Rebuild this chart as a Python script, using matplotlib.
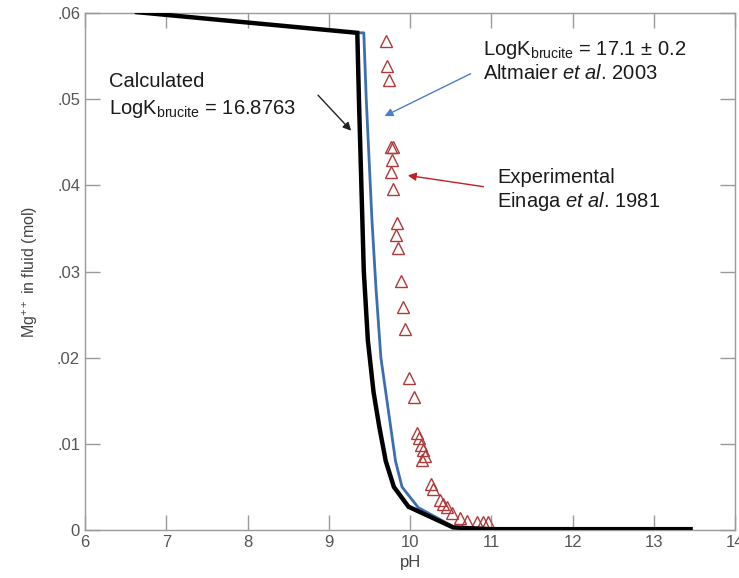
import matplotlib
matplotlib.use("Agg")
import matplotlib.pyplot as plt
from matplotlib.ticker import FuncFormatter

# font setup (Arial look-alike, also for the math subscripts)
plt.rcParams['font.family'] = ['Liberation Sans', 'DejaVu Sans']
plt.rcParams['mathtext.fontset'] = 'custom'
plt.rcParams['mathtext.rm'] = 'Liberation Sans'
plt.rcParams['mathtext.it'] = 'Liberation Sans:italic'

# calculated curve, LogK brucite = 16.8763
calc_ph = [6.64, 9.35, 9.37, 9.40, 9.43, 9.48, 9.55, 9.62, 9.70, 9.80, 9.98, 10.53, 11.0, 13.45]
calc_mg = [0.0601, 0.0577, 0.050, 0.040, 0.030, 0.022, 0.016, 0.012, 0.008, 0.005, 0.0027, 0.0003, 0.0001, 0.0001]

# Altmaier et al. 2003 curve, LogK brucite = 17.1
alt_ph = [9.35, 9.43, 9.46, 9.50, 9.53, 9.58, 9.64, 9.70, 9.76, 9.82, 9.90, 10.10, 10.55, 11.0]
alt_mg = [0.0577, 0.0577, 0.050, 0.042, 0.036, 0.028, 0.020, 0.016, 0.012, 0.008, 0.005, 0.0026, 0.0003, 0.0001]

# experimental points, Einaga et al. 1981
exp_ph = [9.705, 9.717, 9.742, 9.766, 9.791, 9.778, 9.766, 9.791, 9.840, 9.828, 9.852,
          9.889, 9.914, 9.938, 9.988, 10.049, 10.086, 10.111, 10.135, 10.160, 10.185,
          10.148, 10.258, 10.283, 10.369, 10.406, 10.455, 10.517, 10.615, 10.702,
          10.825, 10.898, 10.960]
exp_mg = [0.0567, 0.0539, 0.0522, 0.0445, 0.0444, 0.0429, 0.0416, 0.0396, 0.0356, 0.0342, 0.0327,
          0.0289, 0.0259, 0.0233, 0.0177, 0.0154, 0.0113, 0.0107, 0.0099, 0.0093, 0.0086,
          0.0081, 0.0053, 0.0048, 0.0035, 0.0030, 0.0027, 0.0020, 0.0014, 0.0010,
          0.0009, 0.0009, 0.0009]

fig = plt.figure(figsize=(7.39, 5.78), dpi=100)
ax = fig.add_axes([0.115, 0.083, 0.88, 0.8945])

ax.plot(alt_ph, alt_mg, color='#3b6fb0', lw=2.0, zorder=2)
ax.plot(exp_ph, exp_mg, ls='none', marker='^', markersize=9, markerfacecolor='none',
        markeredgecolor='#b03a3a', markeredgewidth=1.0, zorder=3)
ax.plot(calc_ph, calc_mg, color='black', lw=3.2, zorder=4, solid_joinstyle='miter')

ax.set_xlim(6, 14)
ax.set_ylim(0, 0.06)
ax.set_xticks(range(6, 15))
ax.set_yticks([0, 0.01, 0.02, 0.03, 0.04, 0.05, 0.06])
ax.yaxis.set_major_formatter(FuncFormatter(lambda v, p: '0' if v == 0 else ('%.2f' % v).lstrip('0')))

for s in ax.spines.values():
    s.set_color('#9a9a9a')
    s.set_linewidth(1.0)
ax.tick_params(direction='in', length=11, width=1.0, color='#9a9a9a', top=True, right=True,
               labelsize=12, labelcolor='#555555')
ax.set_xlabel('pH', fontsize=12, color='#444444', labelpad=4)
ax.set_ylabel('Mg$^{++}$ in fluid (mol)', fontsize=11.5, color='#444444', labelpad=12)

# annotations
tsize = 14.5
ax.text(6.295, 0.0514, 'Calculated', fontsize=tsize, color='#1a1a1a')
ax.text(6.295, 0.04826, r'LogK$_{\mathrm{brucite}}$ = 16.8763', fontsize=tsize, color='#1a1a1a')
ax.annotate('', xy=(9.298, 0.0461), xytext=(8.843, 0.0507),
            arrowprops=dict(arrowstyle='-|>', color='#222222', lw=1.0, mutation_scale=12))

ax.text(10.898, 0.0551, r'LogK$_{\mathrm{brucite}}$ = 17.1 ± 0.2', fontsize=tsize, color='#1a1a1a')
ax.text(10.898, 0.0523, r'Altmaier $\mathit{et\ al}$. 2003', fontsize=tsize, color='#1a1a1a')
ax.annotate('', xy=(9.655, 0.0479), xytext=(10.775, 0.0531),
            arrowprops=dict(arrowstyle='-|>', color='#4a7fc8', lw=1.0, mutation_scale=12))

ax.text(11.071, 0.0403, 'Experimental', fontsize=tsize, color='#1a1a1a')
ax.text(11.071, 0.0375, r'Einaga $\mathit{et\ al}$. 1981', fontsize=tsize, color='#1a1a1a')
ax.annotate('', xy=(9.938, 0.0412), xytext=(10.935, 0.0398),
            arrowprops=dict(arrowstyle='-|>', color='#c02020', lw=1.0, mutation_scale=12))

fig.savefig('out.png', dpi=100)
